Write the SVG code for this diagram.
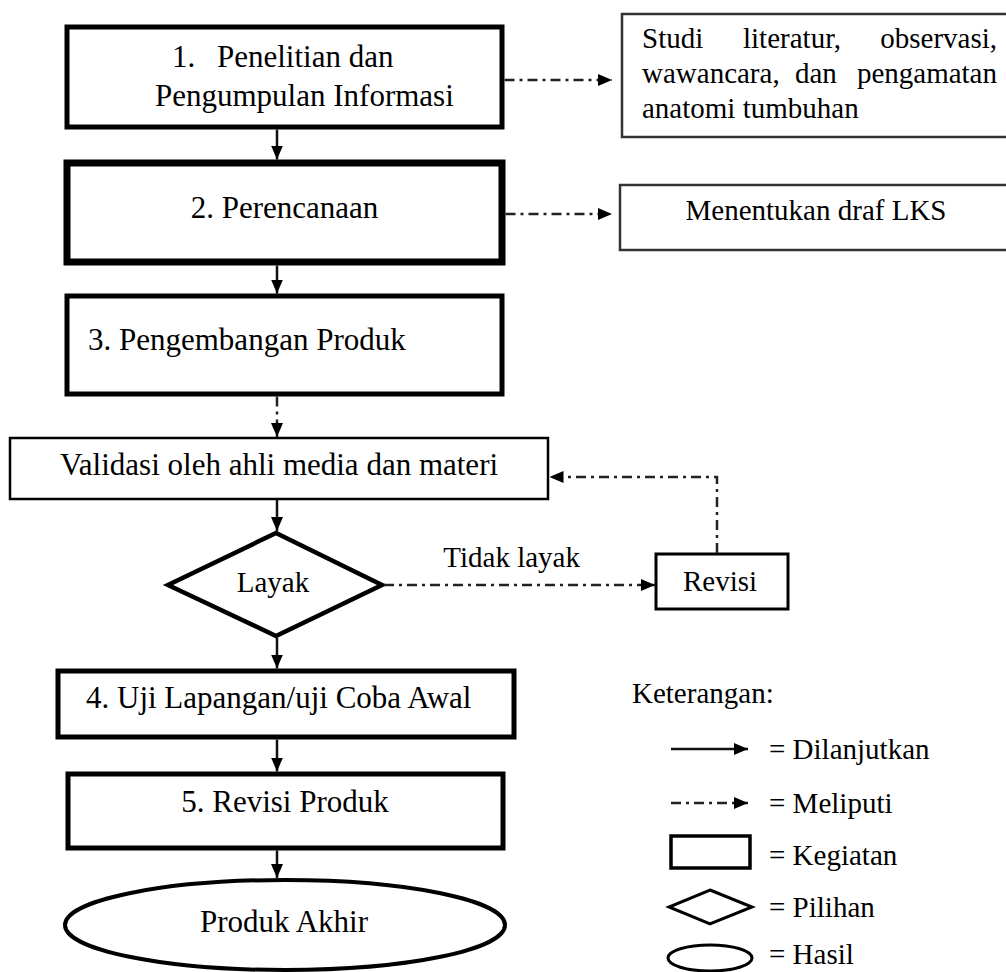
<svg xmlns="http://www.w3.org/2000/svg" width="1006" height="972" viewBox="0 0 1006 972">
<defs>
<style>
text{font-family:"Liberation Serif","Times New Roman",serif;fill:#000}
.t31{font-size:31px}
.t29{font-size:29px}
.mid{text-anchor:middle}
.end{text-anchor:end}
.box{fill:#fff;stroke:#000}
.side{fill:#fff;stroke:#333;stroke-width:2.5}
.solid{fill:none;stroke:#111;stroke-width:2.5}
.dash{fill:none;stroke:#222;stroke-width:2.5;stroke-dasharray:10 5 3 5}
</style>
<marker id="ah" markerUnits="userSpaceOnUse" markerWidth="14" markerHeight="14" refX="14" refY="7" orient="auto">
<path d="M0,1 L14,7 L0,13 z" fill="#000"/>
</marker>
</defs>
<rect width="1006" height="972" fill="#fff"/>

<g id="node1">
<rect class="box" x="67" y="27" width="435" height="100" stroke-width="5"/>
<text class="t31" y="67"><tspan x="172">1.</tspan><tspan x="217">Penelitian dan</tspan></text>
<text class="t31" x="155" y="106">Pengumpulan Informasi</text>
</g>
<g id="node1b">
<rect class="side" x="622" y="14" width="390" height="123"/>
<text class="t29" y="48"><tspan x="642">Studi</tspan><tspan x="743">literatur,</tspan><tspan x="997" text-anchor="end">observasi,</tspan></text>
<text class="t29" y="83"><tspan x="642">wawancara,</tspan><tspan x="795">dan</tspan><tspan x="997" text-anchor="end">pengamatan</tspan></text>
<text class="t29" x="642" y="118">anatomi tumbuhan</text>
</g>
<g id="node2">
<rect class="box" x="67" y="163" width="435" height="99" stroke-width="7"/>
<text class="t31 mid" x="284.5" y="218">2. Perencanaan</text>
</g>
<g id="node2b">
<rect class="side" x="620" y="185" width="392" height="65"/>
<text class="t29 mid" x="816" y="220">Menentukan draf LKS</text>
</g>
<g id="node3">
<rect class="box" x="67" y="296" width="435" height="98" stroke-width="5"/>
<text class="t31" x="88" y="350">3. Pengembangan Produk</text>
</g>
<g id="validasi">
<rect class="box" x="10" y="438" width="538" height="61" stroke-width="2.5"/>
<text class="t31 mid" x="279" y="475">Validasi oleh ahli media dan materi</text>
</g>
<g id="layak">
<polygon class="box" points="276,533 382,585 276,636 168,585" stroke-width="4.5"/>
<text class="t29 mid" x="273" y="592">Layak</text>
</g>
<g id="revisi">
<rect class="box" x="656" y="554" width="132" height="55" stroke-width="3" stroke="#222"/>
<text class="t29 mid" x="720" y="591">Revisi</text>
</g>
<g id="node4">
<rect class="box" x="58" y="671" width="456" height="66" stroke-width="5"/>
<text class="t31" x="86" y="708">4. Uji Lapangan/uji Coba Awal</text>
</g>
<g id="node5">
<rect class="box" x="68" y="774" width="435" height="74" stroke-width="5"/>
<text class="t31 mid" x="285" y="812">5. Revisi Produk</text>
</g>
<g id="produk">
<ellipse class="box" cx="285" cy="925" rx="220" ry="45" stroke-width="4"/>
<text class="t31 mid" x="284" y="932">Produk Akhir</text>
</g>

<g id="connectors">
<path class="solid" d="M277,129.5 V159.5" marker-end="url(#ah)"/>
<path class="solid" d="M277,265.5 V293.5" marker-end="url(#ah)"/>
<path class="dash" d="M277,396.5 V437" marker-end="url(#ah)"/>
<path class="solid" d="M277,500 V531" marker-end="url(#ah)"/>
<path class="solid" d="M277,638 V668.5" marker-end="url(#ah)"/>
<path class="solid" d="M277,739.5 V771.5" marker-end="url(#ah)"/>
<path class="solid" d="M277,850.5 V878" marker-end="url(#ah)"/>
<path class="dash" d="M504.5,80 H612" marker-end="url(#ah)"/>
<path class="dash" d="M505.5,214 H612" marker-end="url(#ah)"/>
<path class="dash" d="M384,585 H655" marker-end="url(#ah)"/>
<path class="dash" d="M717,553 V477 H549.5" marker-end="url(#ah)"/>
<text class="t29 end" x="580" y="567">Tidak layak</text>
</g>

<g id="legend">
<text class="t29" x="632" y="703">Keterangan:</text>
<path class="solid" d="M671,749 H748" marker-end="url(#ah)"/>
<text class="t29" x="769" y="759">= Dilanjutkan</text>
<path class="dash" d="M671,803 H748" marker-end="url(#ah)"/>
<text class="t29" x="769" y="813">= Meliputi</text>
<rect class="box" x="671" y="836" width="79" height="32" stroke-width="3.5"/>
<text class="t29" x="769" y="865">= Kegiatan</text>
<polygon class="box" points="710,890 752,907 710,924 669,907" stroke-width="3"/>
<text class="t29" x="769" y="917">= Pilihan</text>
<ellipse class="box" cx="710" cy="958" rx="42" ry="13" stroke-width="3"/>
<text class="t29" x="769" y="964">= Hasil</text>
</g>
</svg>
